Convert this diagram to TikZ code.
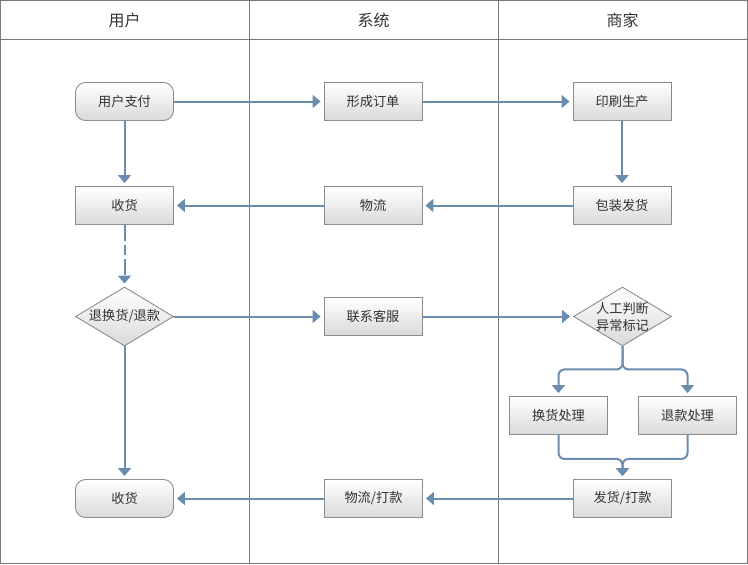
\documentclass[tikz,border=0pt]{standalone}
\usepackage{fontspec}
\setmainfont{Noto Sans CJK SC}
\usetikzlibrary{arrows.meta,shapes.geometric}
\definecolor{arr}{HTML}{6A8CAF}
\definecolor{frm}{HTML}{7A7A7A}
\definecolor{bd}{HTML}{8C8C8C}
\definecolor{bot}{HTML}{DADADA}
\definecolor{tx}{HTML}{333333}
\begin{document}
\begin{tikzpicture}[x=1pt,y=-1pt,
 box/.style={draw=bd, line width=0.9pt, top color=white, bottom color=bot, minimum width=98pt, minimum height=38pt, inner sep=0pt, text=tx, font=\fontsize{13.2}{15}\selectfont},
 rbox/.style={box, rounded corners=10pt},
 dia/.style={diamond, draw=bd, line width=0.9pt, top color=white, bottom color=bot, minimum width=98pt, minimum height=59pt, inner sep=0pt},
 txt/.style={text=tx, font=\fontsize{13.2}{17}\selectfont, align=center, inner sep=0pt},
 head/.style={text=tx, font=\fontsize{16}{18}\selectfont, inner sep=0pt},
 conn/.style={draw=arr, line width=2pt, -{Triangle[width=13pt,length=8pt]}, shorten >=3pt},
 frame/.style={draw=frm, line width=1pt}
]
\useasboundingbox (0,0) rectangle (748,565);
% frame
\draw[frame] (0.5,0.5) rectangle (747.5,563.5);
\draw[frame] (0.5,39) -- (747.5,39);
\draw[frame] (249,0.5) -- (249,563.5);
\draw[frame] (498,0.5) -- (498,563.5);
% headers
\node[head] (h1) at (124.5,20) {用户};
\node[head] (h2) at (373.5,20) {系统};
\node[head] (h3) at (622.5,20) {商家};
% nodes
\node[rbox] (pay) at (124.5,101.5) {用户支付};
\node[box] (order) at (373,101.5) {形成订单};
\node[box] (print) at (622,101.5) {印刷生产};
\node[box] (sh1) at (124.5,205.5) {收货};
\node[box] (wl) at (373,205.5) {物流};
\node[box] (pack) at (622,205.5) {包装发货};
\node[dia] (d1) at (124.5,316.5) {};
\node[txt] (d1t) at (d1.center) {退换货/退款};
\node[box] (kf) at (373,316.5) {联系客服};
\node[dia] (d2) at (622.5,316.5) {};
\node[txt] (d2t) at (d2.center) {人工判断\\异常标记};
\node[box] (hh) at (558.5,415.5) {换货处理};
\node[box] (tk) at (687.5,415.5) {退款处理};
\node[box] (fd) at (622.5,498.5) {发货/打款};
\node[rbox] (sh2) at (124.5,498.5) {收货};
\node[box] (wldk) at (373.5,498.5) {物流/打款};
% connectors
\draw[conn] (pay) -- (order);
\draw[conn] (order) -- (print);
\draw[conn] (pay) -- (sh1);
\draw[conn] (print) -- (pack);
\draw[conn] (pack) -- (wl);
\draw[conn] (wl) -- (sh1);
\draw[conn, dash pattern=on 16pt off 4pt on 10pt off 4pt] (sh1) -- (d1);
\draw[conn] (d1.east) -- (kf);
\draw[conn] (kf) -- (d2.west);
\draw[conn] (d1.south) -- (sh2);
\draw[conn, rounded corners=6pt] (d2.south) -- ++(0,23) -| (hh.north);
\draw[conn, rounded corners=6pt] (d2.south) -- ++(0,23) -| (tk.north);
\draw[conn, rounded corners=6pt] (hh.south) -- ++(0,24) -| (fd.north);
\draw[conn, rounded corners=6pt] (tk.south) -- ++(0,24) -| (fd.north);
\draw[conn] (fd) -- (wldk);
\draw[conn] (wldk) -- (sh2);
\end{tikzpicture}
\end{document}
